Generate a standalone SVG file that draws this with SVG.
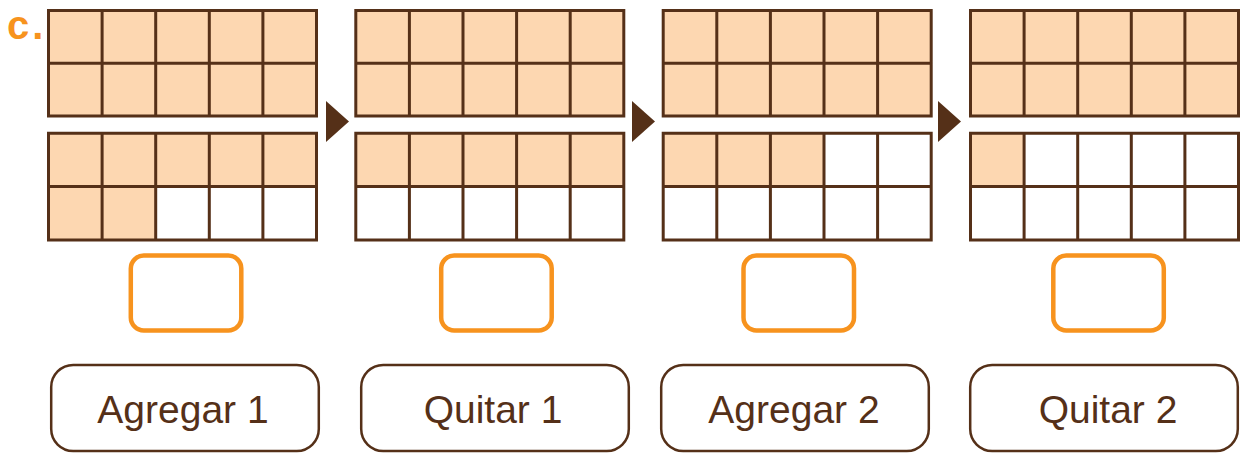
<svg xmlns="http://www.w3.org/2000/svg" xmlns:xlink="http://www.w3.org/1999/xlink" width="1247" height="460" viewBox="0 0 1247 460">
<style>
.fill{fill:#FDD7B1}
.grid{fill:none;stroke:#553018;stroke-width:3;stroke-linecap:square}
.ans{fill:#fff;stroke:#F7931E;stroke-width:4.5}
.lab{fill:#fff;stroke:#553018;stroke-width:2.5}
.lt{font-family:"Liberation Sans",Arial,sans-serif;font-size:39px;fill:#553018;text-anchor:middle}
.arr{fill:#553018}
</style>
<defs>
<path id="g" d="M0,0H268M0,52.7H268M0,105.4H268M0,0V105.4M53.6,0V105.4M107.2,0V105.4M160.8,0V105.4M214.4,0V105.4M268,0V105.4"/>
<path id="g2" d="M0,0H268M0,53.4H268M0,106.8H268M0,0V106.8M53.6,0V106.8M107.2,0V106.8M160.8,0V106.8M214.4,0V106.8M268,0V106.8"/>
</defs>
<rect width="1247" height="460" fill="#fff"/>
<text x="7" y="39" font-family="'Liberation Sans',Arial,sans-serif" font-weight="bold" font-size="40" fill="#F7931E" letter-spacing="3">c.</text>

<g id="panel1" transform="translate(48.5,10.5)">
<rect class="fill" x="0" y="0" width="268" height="105.4"/>
<rect class="fill" x="0" y="122.7" width="268" height="53.4"/>
<rect class="fill" x="0" y="176.1" width="107.2" height="53.4"/>
<use xlink:href="#g" class="grid"/>
<use xlink:href="#g2" class="grid" y="122.7"/>
</g>
<g id="panel2" transform="translate(355.8,10.5)">
<rect class="fill" x="0" y="0" width="268" height="105.4"/>
<rect class="fill" x="0" y="122.7" width="268" height="53.4"/>
<use xlink:href="#g" class="grid"/>
<use xlink:href="#g2" class="grid" y="122.7"/>
</g>
<g id="panel3" transform="translate(663.2,10.5)">
<rect class="fill" x="0" y="0" width="268" height="105.4"/>
<rect class="fill" x="0" y="122.7" width="160.8" height="53.4"/>
<use xlink:href="#g" class="grid"/>
<use xlink:href="#g2" class="grid" y="122.7"/>
</g>
<g id="panel4" transform="translate(970.5,10.5)">
<rect class="fill" x="0" y="0" width="268" height="105.4"/>
<rect class="fill" x="0" y="122.7" width="53.6" height="53.4"/>
<use xlink:href="#g" class="grid"/>
<use xlink:href="#g2" class="grid" y="122.7"/>
</g>

<g id="connectors">
<polygon class="arr" points="326,101 349,121.5 326,142"/>
<polygon class="arr" points="632,101 655,121.5 632,142"/>
<polygon class="arr" points="938,101 961,121.5 938,142"/>
</g>

<g id="answer1"><rect class="ans" x="130.8" y="255.5" width="110.5" height="75" rx="13"/></g>
<g id="answer2"><rect class="ans" x="441.2" y="255.5" width="110.5" height="75" rx="13"/></g>
<g id="answer3"><rect class="ans" x="743.5" y="255.5" width="110.5" height="75" rx="13"/></g>
<g id="answer4"><rect class="ans" x="1053.3" y="255.5" width="110.5" height="75" rx="13"/></g>

<g id="label1"><rect class="lab" x="51.2" y="365" width="267.6" height="86" rx="22"/><text class="lt" x="183" y="423">Agregar 1</text></g>
<g id="label2"><rect class="lab" x="361.2" y="365" width="267.6" height="86" rx="22"/><text class="lt" x="493" y="423">Quitar 1</text></g>
<g id="label3"><rect class="lab" x="661.2" y="365" width="267.6" height="86" rx="22"/><text class="lt" x="794" y="423">Agregar 2</text></g>
<g id="label4"><rect class="lab" x="970.2" y="365" width="267.6" height="86" rx="22"/><text class="lt" x="1108" y="423">Quitar 2</text></g>
</svg>
